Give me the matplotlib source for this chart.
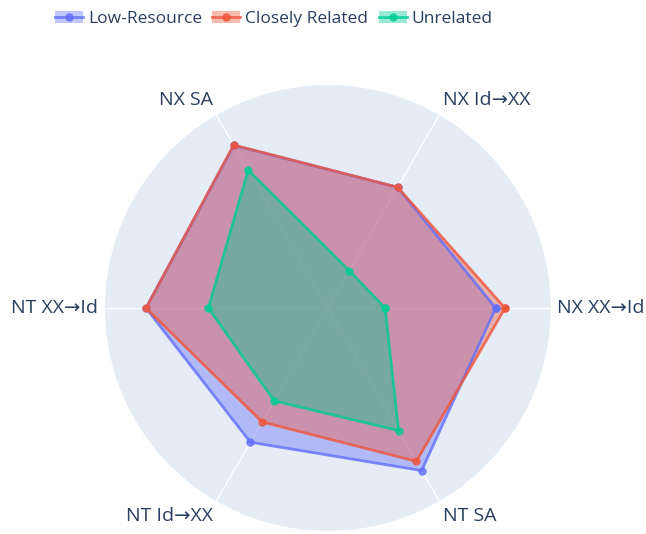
import numpy as np
import matplotlib.pyplot as plt
from matplotlib.patches import Patch
from matplotlib.lines import Line2D

plt.rcParams['font.family'] = ['Open Sans', 'DejaVu Sans']

categories = ['NX XX→Id', 'NX Id→XX', 'NX SA', 'NT XX→Id', 'NT Id→XX', 'NT SA']
low_resource = [75.3, 62.6, 84.3, 81.6, 69.5, 84.2]
closely_related = [79.5, 62.6, 84.5, 81.6, 59.0, 79.4]
unrelated = [25.7, 19.3, 71.5, 53.6, 48.1, 63.5]

series = [('Low-Resource', low_resource, '#636efa'),
          ('Closely Related', closely_related, '#EF553B'),
          ('Unrelated', unrelated, '#00cc96')]

text_color = '#2a3f5f'

fig = plt.figure(figsize=(6.46, 5.34), dpi=100)
ax = fig.add_axes([0.1625, 0.0056, 0.690, 0.835], projection='polar')
ax.set_facecolor('#E5ECF6')

angles = np.deg2rad(np.arange(len(categories)) * 360 / len(categories))
closed = np.append(angles, angles[0])

handles = []
for name, vals, col in series:
    v = np.append(vals, vals[0])
    ax.fill(closed, v, color=col, alpha=0.4, lw=0, zorder=2)
    ax.plot(closed, v, color=col, lw=2, marker='o', ms=5, alpha=0.8, zorder=3)
    handles.append((Patch(facecolor=col, alpha=0.4, lw=0),
                    Line2D([], [], color=col, lw=2, marker='o', ms=5, alpha=0.8)))

ax.set_ylim(0, 100)
ax.set_yticks([])
ax.set_xticks(angles)
ax.set_xticklabels([])
ax.xaxis.grid(True, color='white', lw=1)
ax.yaxis.grid(False)
ax.spines['polar'].set_visible(False)
ax.tick_params(length=0)

# category labels just outside the circle
align = [('left', 'center'), ('left', 'bottom'), ('right', 'bottom'),
         ('right', 'center'), ('right', 'top'), ('left', 'top')]
for a, lab, (ha, va) in zip(angles, categories, align):
    ax.text(a, 103, lab, ha=ha, va=va, fontsize=14, color=text_color, clip_on=False)

fig.legend(handles, [s[0] for s in series], loc='center', bbox_to_anchor=(0.424, 0.964),
           ncol=3, frameon=False, fontsize=12.5, labelcolor=text_color,
           handlelength=1.6, handletextpad=0.3, columnspacing=0.6)

fig.savefig('out.png', dpi=100, facecolor='white')
